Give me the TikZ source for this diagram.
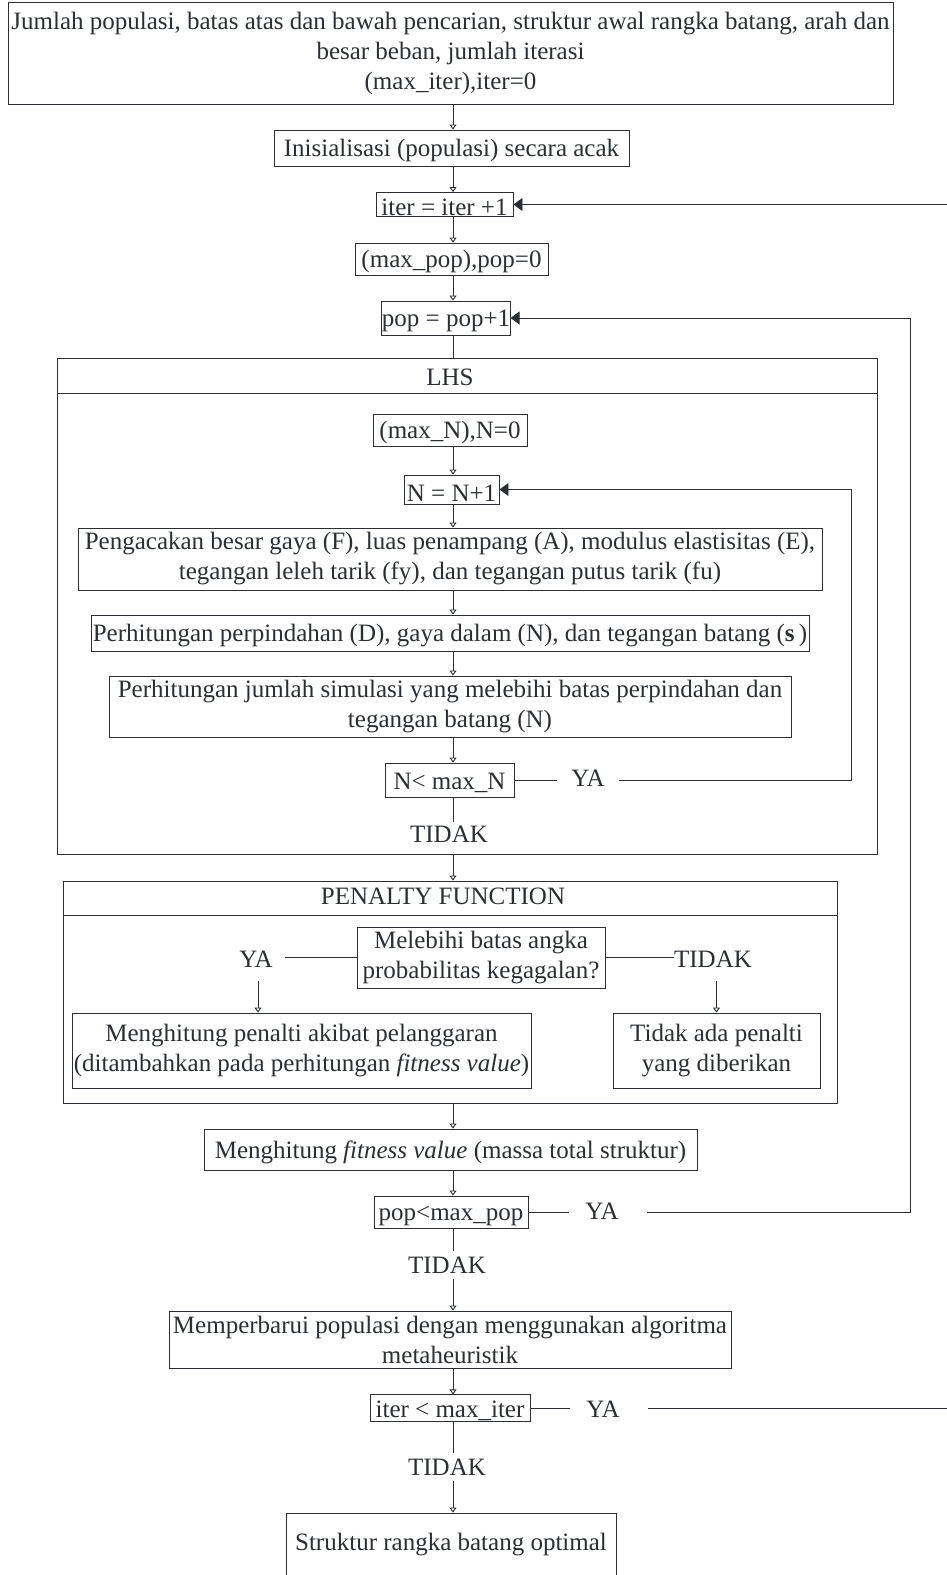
\documentclass[tikz,border=0pt]{standalone}
\usepackage{fontspec}
\setmainfont{Liberation Serif}
\usetikzlibrary{arrows.meta}
\definecolor{ink}{HTML}{2B2F33}
\begin{document}
\begin{tikzpicture}[x=1pt,y=-1pt,
  every node/.style={font=\fontsize{25}{30}\selectfont, text=ink},
  box/.style={draw=ink, line width=0.9pt, inner sep=0pt, align=center,
    execute at begin node={\rule{0pt}{23pt}}},
  lbl/.style={inner sep=0pt},
  line/.style={draw=ink, line width=0.9pt},
  arr/.style={line, -{Triangle[open,length=5pt,width=7pt]}},
  back/.style={line, -{Triangle[length=9pt,width=13pt]}}]
\useasboundingbox (0,0) rectangle (947,1575);
\coordinate (sp) at (453,0);
% top
\node[box, minimum width=885pt, minimum height=102pt] (top) at (450.5,53)
  {Jumlah populasi, batas atas dan bawah pencarian, struktur awal rangka batang, arah dan\\besar beban, jumlah iterasi\\(max\_iter),iter=0};
\node[box, minimum width=355pt, minimum height=36pt] (init) at (451.5,148) {Inisialisasi (populasi) secara acak};
\node[box, minimum width=137pt, minimum height=24pt] (iter) at (444.5,204.5) {iter = iter +1};
\node[box, minimum width=193pt, minimum height=32pt] (maxpop) at (451.5,259) {(max\_pop),pop=0};
\node[box, minimum width=128pt, minimum height=34pt] (pop) at (446,318) {pop = pop+1};
% LHS
\node[box, minimum width=820pt, minimum height=496pt] (lhs) at (467,606) {};
\coordinate (lhsh) at (0,393);
\draw[line] (lhs.west |- lhsh) -- (lhs.east |- lhsh);
\node[lbl] (lhst) at (450,377) {LHS};
\node[box, minimum width=154pt, minimum height=32pt] (maxN) at (450,430) {(max\_N),N=0};
\node[box, minimum width=95pt, minimum height=29pt] (N) at (451.5,489.5) {N = N+1};
\node[box, minimum width=744pt, minimum height=62pt] (peng) at (450,559)
  {Pengacakan besar gaya (F), luas penampang (A), modulus elastisitas (E),\\tegangan leleh tarik (fy), dan tegangan putus tarik (fu)};
\node[box, minimum width=718pt, minimum height=36pt] (perh1) at (450,633)
  {Perhitungan perpindahan (D), gaya dalam (N), dan tegangan batang (\textbf{s}\,)};
\node[box, minimum width=682pt, minimum height=61pt] (perh2) at (450,706.5)
  {Perhitungan jumlah simulasi yang melebihi batas perpindahan dan\\tegangan batang (N)};
\node[box, minimum width=129pt, minimum height=34pt] (Nc) at (449.5,780) {N< max\_N};
\node[lbl] (ya1) at (588,778) {YA};
\node[lbl] (td1) at (449,834) {TIDAK};
\coordinate (c1) at (851,780);
% PENALTY
\node[box, minimum width=774pt, minimum height=222pt] (pen) at (450,992) {};
\coordinate (penh) at (0,915);
\draw[line] (pen.west |- penh) -- (pen.east |- penh);
\node[lbl] (pent) at (443,896) {PENALTY FUNCTION};
\node[box, minimum width=248pt, minimum height=61pt] (mel) at (481,957.5)
  {Melebihi batas angka\\probabilitas kegagalan?};
\node[lbl] (ya2) at (256,959) {YA};
\node[lbl] (td2) at (713,959) {TIDAK};
\node[box, minimum width=459pt, minimum height=75pt] (pn) at (301.5,1050.5)
  {Menghitung penalti akibat pelanggaran\\(ditambahkan pada perhitungan \textit{fitness value})};
\node[box, minimum width=207pt, minimum height=75pt] (np) at (716.5,1050.5)
  {Tidak ada penalti\\yang diberikan};
% after
\node[box, minimum width=493pt, minimum height=41pt] (fit) at (450.5,1149.5)
  {Menghitung \textit{fitness value} (massa total struktur)};
\node[box, minimum width=154pt, minimum height=32pt] (pc) at (451,1212) {pop<max\_pop};
\node[lbl] (ya3) at (602,1211) {YA};
\node[lbl] (td3) at (447,1265) {TIDAK};
\coordinate (c3) at (910,1212);
\node[box, minimum width=562pt, minimum height=57pt] (mem) at (450,1339.5)
  {Memperbarui populasi dengan menggunakan algoritma\\metaheuristik};
\node[box, minimum width=160pt, minimum height=24pt] (ic) at (450,1408) {iter < max\_iter};
\node[lbl] (ya4) at (603,1409) {YA};
\node[lbl] (td4) at (447,1467) {TIDAK};
\coordinate (c4) at (949,1408);
\node[box, minimum width=330pt, minimum height=70pt] (fin) at (451,1548)
  {\raisebox{13pt}{Struktur rangka batang optimal}};
% spine arrows
\draw[arr] (top.south -| sp) -- (init.north -| sp);
\draw[arr] (init.south -| sp) -- (iter.north -| sp);
\draw[arr] (iter.south -| sp) -- (maxpop.north -| sp);
\draw[arr] (maxpop.south -| sp) -- (pop.north -| sp);
\draw[line] (pop.south -| sp) -- (lhs.north -| sp);
\draw[arr] (maxN.south -| sp) -- (N.north -| sp);
\draw[arr] (N.south -| sp) -- (peng.north -| sp);
\draw[arr] (peng.south -| sp) -- (perh1.north -| sp);
\draw[arr] (perh1.south -| sp) -- (perh2.north -| sp);
\draw[arr] (perh2.south -| sp) -- (Nc.north -| sp);
\draw[line] (Nc.south -| sp) -- ([yshift=4pt]td1.north -| sp);
\draw[arr] (lhs.south -| sp) -- (pen.north -| sp);
\draw[arr] (pen.south -| sp) -- (fit.north -| sp);
\draw[arr] (fit.south -| sp) -- (pc.north -| sp);
\draw[line] (pc.south -| sp) -- ([yshift=6pt]td3.north -| sp);
\draw[arr] ([yshift=-6pt]td3.south -| sp) -- (mem.north -| sp);
\draw[arr] (mem.south -| sp) -- (ic.north -| sp);
\draw[line] (ic.south -| sp) -- ([yshift=6pt]td4.north -| sp);
\draw[arr] ([yshift=-6pt]td4.south -| sp) -- (fin.north -| sp);
% N loop
\draw[line] (Nc.east) -- ([xshift=-14pt]Nc.east -| ya1.west);
\draw[back] ([xshift=14pt]Nc.east -| ya1.east) -- (c1) -- (c1 |- N) -- (N.east);
% penalty branches
\draw[line] (mel.west) -- ([xshift=12pt]mel.west -| ya2.east);
\draw[line] (mel.east) -- (mel.east -| td2.west);
\draw[arr] ([yshift=-14pt]ya2.south -| 258,0) -- (pn.north -| 258,0);
\draw[arr] ([yshift=-14pt]td2.south -| np) -- (np.north);
% pop loop
\draw[line] (pc.east) -- ([xshift=-16pt]pc.east -| ya3.west);
\draw[back] ([xshift=28pt]pc.east -| ya3.east) -- (c3) -- (c3 |- pop) -- (pop.east);
% iter loop
\draw[line] (ic.east) -- ([xshift=-16pt]ic.east -| ya4.west);
\draw[back] ([xshift=28pt]ic.east -| ya4.east) -- (c4) -- (c4 |- iter) -- (iter.east);
\end{tikzpicture}
\end{document}
